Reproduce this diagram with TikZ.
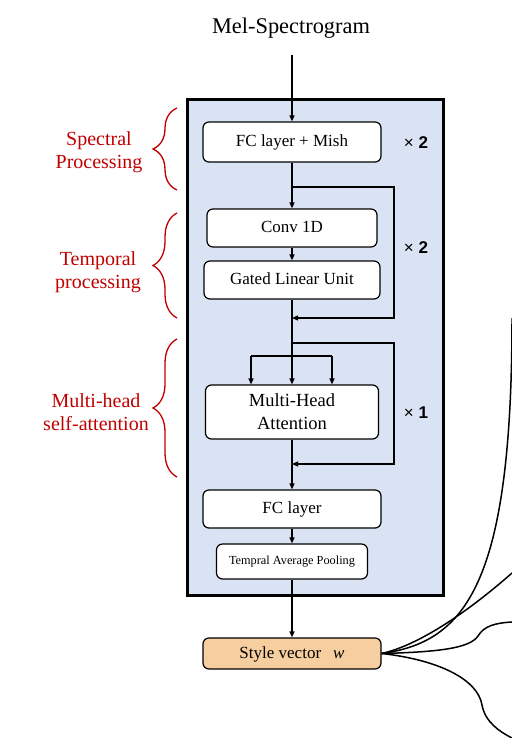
\documentclass[tikz,border=0pt]{standalone}
\usepackage{fontspec}
\setmainfont{Liberation Serif}
\newfontfamily\sansf{Liberation Sans}
\usetikzlibrary{arrows.meta,decorations.pathreplacing}
\definecolor{panelblue}{RGB}{218,227,243}
\definecolor{styleorange}{RGB}{246,206,160}
\definecolor{labelred}{RGB}{192,0,0}
\begin{document}
\begin{tikzpicture}[x=1pt,y=-1pt,
  blk/.style={draw=black, fill=white, rounded corners=6pt, line width=1.2pt, inner sep=0pt, font=\fontsize{17}{20}\selectfont, align=center},
  arr/.style={line width=1.2pt, -{Triangle[length=6pt,width=5pt]}},
  ln/.style={line width=1.2pt},
  rep/.style={font=\sansf\fontsize{17}{20}\selectfont},
  redlab/.style={text=labelred, font=\fontsize{20}{23}\selectfont, align=center},
  brc/.style={draw=labelred, line width=1.3pt, decorate, decoration={brace, amplitude=24pt}},
  curvy/.style={line width=1.5pt}
]
\useasboundingbox (0,0) rectangle (511,738);

\node[font=\fontsize{22.4}{26}\selectfont] (title) at (291,28) {Mel-Spectrogram};
\node[draw, line width=3pt, fill=panelblue, minimum width=256pt, minimum height=495pt, inner sep=0pt] (panel) at (315,347.5) {};

\node[blk, minimum width=178pt, minimum height=40pt, text depth=2pt] (fc1) at (292,142) {FC layer + Mish};
\node[blk, minimum width=170pt, minimum height=38pt, text depth=2pt] (conv) at (292,228) {Conv 1D};
\node[blk, minimum width=176pt, minimum height=38pt, text depth=2pt] (glu) at (292,280) {Gated Linear Unit};
\node[blk, minimum width=173pt, minimum height=54pt, font=\fontsize{18.5}{23}\selectfont] (mha) at (292,412) {Multi-Head\\Attention};
\node[blk, minimum width=178pt, minimum height=38pt, text depth=2pt] (fc2) at (292,509) {FC layer};
\node[blk, minimum width=151pt, minimum height=35pt, font=\fontsize{12.3}{14}\selectfont] (tap) at (292,561.5) {Tempral Average Pooling};
\node[blk, fill=styleorange, minimum width=178pt, minimum height=31pt, text depth=2pt] (style) at (292,653.5) {Style vector\hspace{12pt}\textit{w}};

\node[rep] (rep1) at (416,143) {×~\textbf{2}};
\node[rep] (rep2) at (416,248) {×~\textbf{2}};
\node[rep] (rep3) at (416,413) {×~\textbf{1}};

\coordinate (melsrc) at (292,55);
\draw[arr] (melsrc) -- (fc1);
\draw[arr] (fc1) -- (conv);
\draw[arr] (conv) -- (glu);

\coordinate (split1) at (292,187);
\coordinate (split1r) at (394,187);
\coordinate (join1r) at (394,318);
\coordinate (join1) at (292,318);
\draw[arr] (split1) -- (split1r) -- (join1r) -- (join1);

\coordinate (fork) at (292,356);
\coordinate (forkl) at (251,356);
\coordinate (forkr) at (332,356);
\draw[ln] (glu) -- (fork);
\draw[ln] (forkl) -- (forkr);
\draw[arr] (forkl) -- (forkl |- mha.north);
\draw[arr] (fork) -- (mha);
\draw[arr] (forkr) -- (forkr |- mha.north);

\coordinate (split2) at (292,343);
\coordinate (split2r) at (394,343);
\coordinate (join2r) at (394,464);
\coordinate (join2) at (292,464);
\draw[arr] (split2) -- (split2r) -- (join2r) -- (join2);

\draw[arr] (mha) -- (fc2);
\draw[arr] (fc2) -- (tap);
\draw[arr] (tap) -- (style);

\draw[brc] (177,190) -- (177,108);
\draw[brc] (177,318) -- (177,213);
\draw[brc] (177,477) -- (177,339);
\node[redlab] (lab1) at (99,152) {Spectral\\Processing};
\node[redlab] (lab2) at (98,272) {Temporal\\processing};
\node[redlab] (lab3) at (96,412) {Multi-head\\self-attention};

\coordinate (c1end) at (512,318);
\coordinate (c2end) at (512,573);
\coordinate (c3end) at (512,622);
\coordinate (c4end) at (512,738);
\draw[curvy] (style.east) .. controls (465,642) and (512,585) .. (c1end);
\draw[curvy] (style.east) .. controls (420,645) and (470,610) .. (c2end);
\draw[curvy] (style.east) .. controls (440,652) and (470,648) .. (478,636) .. controls (484,626) and (495,623) .. (c3end);
\draw[curvy] (style.east) .. controls (440,660) and (478,680) .. (482,705) .. controls (485,722) and (500,732) .. (c4end);
\end{tikzpicture}
\end{document}
